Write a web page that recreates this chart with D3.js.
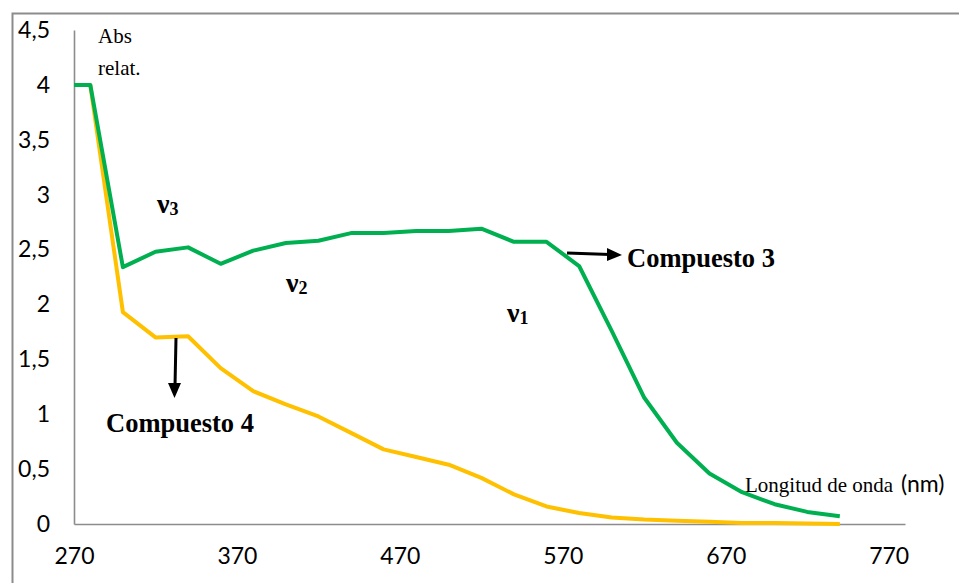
<!DOCTYPE html>
<html>
<head>
<meta charset="utf-8">
<script src="https://cdn.jsdelivr.net/npm/d3@7"></script>
<style>
  html, body { margin: 0; padding: 0; background: #fff; }
  svg { display: block; }
</style>
</head>
<body>
<svg id="chart" width="959" height="583"></svg>
<script>
// Longitud de onda (nm) de cada medida
const wavelengths = [270, 280, 300, 320, 340, 360, 380, 400, 420, 440, 460, 480, 500,
                     520, 540, 560, 580, 600, 620, 640, 660, 680, 700, 720, 740];
// Absorbancia relativa, Compuesto 3 (verde)
const compuesto3 = [4.0, 4.0, 2.34, 2.48, 2.52, 2.37, 2.49, 2.56, 2.58, 2.65, 2.65, 2.67, 2.67,
                    2.69, 2.57, 2.57, 2.35, 1.76, 1.15, 0.74, 0.46, 0.29, 0.18, 0.11, 0.07];
// Absorbancia relativa, Compuesto 4 (amarillo)
const compuesto4 = [4.0, 4.0, 1.93, 1.70, 1.71, 1.42, 1.21, 1.09, 0.98, 0.83, 0.68, 0.61, 0.54,
                    0.42, 0.27, 0.16, 0.10, 0.06, 0.04, 0.03, 0.02, 0.01, 0.01, 0.005, 0.0];
const xTicks = [270, 370, 470, 570, 670, 770];
const yTicks = [0, 0.5, 1, 1.5, 2, 2.5, 3, 3.5, 4, 4.5];

const svg = d3.select("#chart");
const axisGray = "#8c8c8c";
const green = "#00B050";
const yellow = "#FFC000";
const serif = "'Liberation Serif', 'Times New Roman', serif";
const sans = "Lato, 'Liberation Sans', sans-serif";

// marco exterior
svg.append("rect")
  .attr("x", 12.5).attr("y", 13.5)
  .attr("width", 1000).attr("height", 1000)
  .attr("fill", "none").attr("stroke", axisGray).attr("stroke-width", 2);

const x = d3.scaleLinear().domain([270, 780]).range([74, 905]);
const y = d3.scaleLinear().domain([0, 4.5]).range([524, 30]);
const fmt = v => String(v).replace(".", ",");

// eje X
const gx = svg.append("g").attr("transform", `translate(0,${y(0)})`)
  .call(d3.axisBottom(x).tickValues(xTicks).tickSize(0).tickPadding(24).tickFormat(d => d));
gx.select(".domain").attr("stroke", axisGray).attr("stroke-width", 1.6);
gx.selectAll("text").attr("font-family", sans).attr("font-size", 23).attr("fill", "#000");

// eje Y
const gy = svg.append("g").attr("transform", `translate(${x(270)},0)`)
  .call(d3.axisLeft(y).tickValues(yTicks).tickSize(0).tickPadding(24).tickFormat(fmt));
gy.select(".domain").attr("stroke", axisGray).attr("stroke-width", 1.6);
gy.selectAll("text").attr("font-family", sans).attr("font-size", 23).attr("fill", "#000");

// series
const line = d3.line().x(d => x(d[0])).y(d => y(d[1]));
const series = [
  { values: compuesto4, color: yellow },
  { values: compuesto3, color: green }
];
series.forEach(s => {
  svg.append("path")
    .datum(wavelengths.map((w, i) => [w, s.values[i]]))
    .attr("d", line)
    .attr("fill", "none")
    .attr("stroke", s.color)
    .attr("stroke-width", 4)
    .attr("stroke-linejoin", "round");
});

// títulos de ejes
const absLabel = svg.append("text").attr("font-family", serif).attr("font-size", 21).attr("fill", "#000");
absLabel.append("tspan").attr("x", 98).attr("y", 43).text("Abs");
absLabel.append("tspan").attr("x", 98).attr("y", 75).text("relat.");

svg.append("text").attr("x", 745).attr("y", 492)
  .attr("font-family", serif).attr("font-size", 21).attr("fill", "#000")
  .text("Longitud de onda");
svg.append("text").attr("x", 901).attr("y", 492)
  .attr("font-family", sans).attr("font-size", 23).attr("fill", "#000")
  .text("(nm)");

// bandas ν
const bands = [
  { sub: "3", px: 157, py: 213 },
  { sub: "2", px: 286, py: 292 },
  { sub: "1", px: 507, py: 322 }
];
bands.forEach(b => {
  const t = svg.append("text").attr("x", b.px).attr("y", b.py)
    .attr("font-family", serif).attr("font-weight", "bold").attr("fill", "#000");
  t.append("tspan").attr("font-size", 28).text("ν");
  t.append("tspan").attr("font-size", 18).attr("dy", 2).text(b.sub);
});

// rótulos de compuestos con flechas
svg.append("text").attr("x", 627).attr("y", 267)
  .attr("font-family", serif).attr("font-weight", "bold").attr("font-size", 26.5)
  .attr("fill", "#000").text("Compuesto 3");
svg.append("text").attr("x", 106).attr("y", 432)
  .attr("font-family", serif).attr("font-weight", "bold").attr("font-size", 26.5)
  .attr("fill", "#000").text("Compuesto 4");

svg.append("line").attr("x1", 567).attr("y1", 253).attr("x2", 610).attr("y2", 254.5)
  .attr("stroke", "#000").attr("stroke-width", 3);
svg.append("path").attr("d", "M607,248 L622,255 L607,261 Z").attr("fill", "#000");

svg.append("line").attr("x1", 176).attr("y1", 338).attr("x2", 175).attr("y2", 386)
  .attr("stroke", "#000").attr("stroke-width", 3);
svg.append("path").attr("d", "M168,383 L174.5,398 L181,383 Z").attr("fill", "#000");
</script>
</body>
</html>
